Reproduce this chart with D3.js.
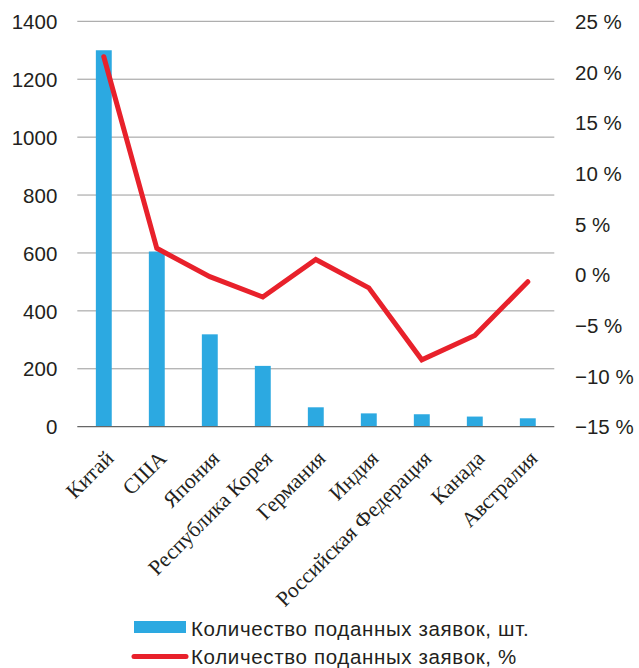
<!DOCTYPE html>
<html><head><meta charset="utf-8">
<script src="https://cdn.jsdelivr.net/npm/d3@7"></script>
<style>body{margin:0;background:#fff}svg{display:block}</style>
</head><body>
<script>
const categories = ["Китай","США","Япония","Республика Корея","Германия","Индия","Российская Федерация","Канада","Австралия"];
const counts = [1300, 605, 319, 210, 67, 46, 43, 35, 29];
const percents = [21.5, 2.6, -0.2, -2.2, 1.5, -1.3, -8.4, -6.0, -0.7];
const leftTicks = [0, 200, 400, 600, 800, 1000, 1200, 1400];
const rightTicks = [-15, -10, -5, 0, 5, 10, 15, 20, 25];
const legendLabels = ["Количество поданных заявок, шт.", "Количество поданных заявок, %"];

const W = 639, H = 668;
const svg = d3.select("body").append("svg").attr("width", W).attr("height", H);
const L = 77.3, R = 554.3, T = 21.3, B = 426.7;
const textColor = "#231f20";
const sans = "Liberation Sans, Arial, Helvetica, sans-serif";
const fs = 20.5;

const x = d3.scaleBand().domain(categories).range([L, R]).paddingInner(0.7).paddingOuter(0.35);
const yL = d3.scaleLinear().domain([0, 1400]).range([B, T]);
const yR = d3.scaleLinear().domain([-15, 25]).range([B, T]);

// gridlines
svg.append("g").selectAll("line").data(leftTicks.filter(d => d > 0)).join("line")
  .attr("x1", L).attr("x2", R).attr("y1", d => yL(d)).attr("y2", d => yL(d))
  .attr("stroke", "#9a9a9a").attr("stroke-width", 1);

// bars
svg.append("g").selectAll("rect").data(counts).join("rect")
  .attr("x", (d, i) => x(categories[i])).attr("width", x.bandwidth())
  .attr("y", d => yL(d)).attr("height", d => B - yL(d))
  .attr("fill", "#2ca9e1");

// baseline
svg.append("line").attr("x1", L).attr("x2", R).attr("y1", B).attr("y2", B)
  .attr("stroke", "#666").attr("stroke-width", 1.2);

// left axis
const axL = d3.axisLeft(yL).tickValues(leftTicks).tickSize(0).tickPadding(0).tickFormat(d3.format("d"));
const gL = svg.append("g").attr("transform", `translate(${L - 20},0)`).call(axL);
gL.select(".domain").remove();
gL.selectAll("text").attr("font-family", sans)
  .attr("font-size", fs).attr("fill", textColor).attr("dy", "0.35em");

// right axis
const axR = d3.axisRight(yR).tickValues(rightTicks).tickSize(0).tickPadding(0)
  .tickFormat(d => (d < 0 ? "\u2212" + Math.abs(d) : d) + " %");
const gR = svg.append("g").attr("transform", `translate(${575},0)`).call(axR);
gR.select(".domain").remove();
gR.selectAll("text").attr("font-family", sans)
  .attr("font-size", fs).attr("fill", textColor).attr("dy", "0.35em");

// line
const line = d3.line().x((d, i) => x(categories[i]) + x.bandwidth() / 2).y(d => yR(d));
svg.append("path").datum(percents).attr("d", line)
  .attr("fill", "none").attr("stroke", "#e8212b").attr("stroke-width", 5)
  .attr("stroke-linejoin", "miter").attr("stroke-linecap", "round");

// category labels
const axX = d3.axisBottom(x).tickSize(0).tickPadding(0);
const gX = svg.append("g").attr("transform", `translate(0,${B})`).call(axX);
gX.select(".domain").remove();
gX.selectAll("text")
  .attr("font-family", "Liberation Serif, Times New Roman, serif")
  .attr("font-size", 21.5).attr("fill", textColor)
  .attr("text-anchor", "end").attr("dy", 0).attr("y", 0)
  .attr("transform", "translate(11,33) rotate(-45)");

// legend
const lg = svg.append("g");
lg.append("rect").attr("x", 134).attr("y", 621).attr("width", 52).attr("height", 12).attr("fill", "#2ca9e1");
lg.append("line").attr("x1", 134).attr("x2", 186).attr("y1", 656.5).attr("y2", 656.5)
  .attr("stroke", "#e8212b").attr("stroke-width", 5).attr("stroke-linecap", "round");
lg.selectAll("text").data(legendLabels).join("text")
  .attr("x", 191).attr("y", (d, i) => 636 + i * 28)
  .attr("font-family", sans).attr("font-size", fs).attr("letter-spacing", 0.65)
  .attr("fill", textColor).text(d => d);
</script>
</body></html>
